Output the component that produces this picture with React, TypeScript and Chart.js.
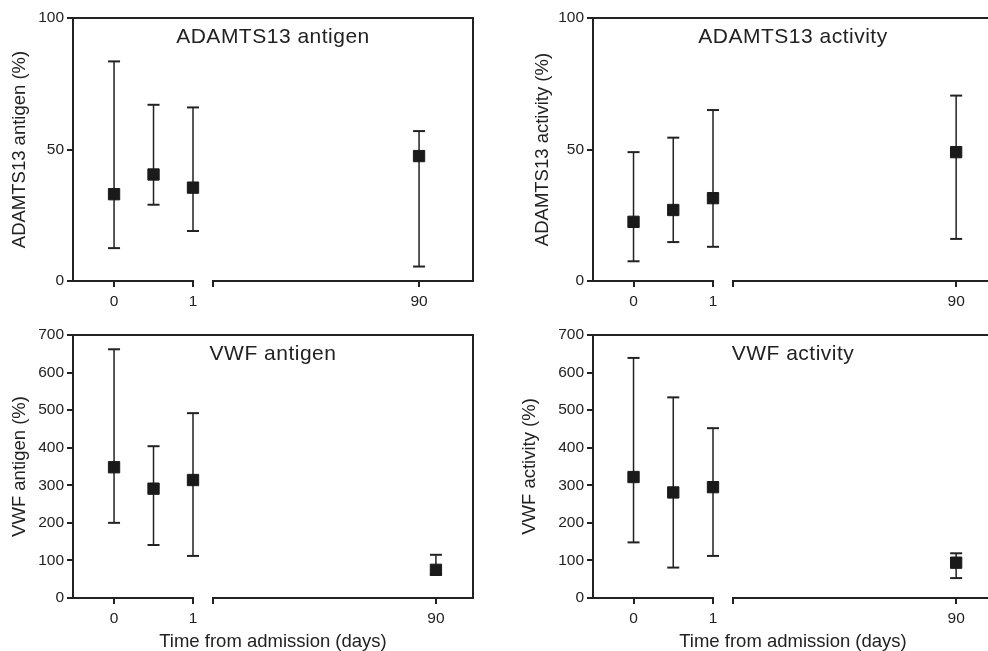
import React, { useEffect, useRef } from 'react';
import { Chart, registerables } from 'chart.js';

Chart.register(...registerables);

// ---------- data ----------
const days = [0, 0.5, 1, 90];
const earlyTickValues = [0, 1];
const lateTickValues = [90];

const adamtsAntigenMedian = [33, 40.5, 35.5, 47.5];
const adamtsAntigenLow = [12.5, 29, 19, 5.5];
const adamtsAntigenHigh = [83.5, 67, 66, 57];

const adamtsActivityMedian = [22.5, 27, 31.5, 49];
const adamtsActivityLow = [7.5, 14.8, 13, 16];
const adamtsActivityHigh = [49, 54.5, 65, 70.5];

const vwfAntigenMedian = [348, 291, 314, 75];
const vwfAntigenLow = [200, 141, 112, 62];
const vwfAntigenHigh = [662, 404, 492, 115];

const vwfActivityMedian = [322, 281, 295, 94];
const vwfActivityLow = [148, 81, 112, 53];
const vwfActivityHigh = [639, 534, 452, 119];

const adamtsTicks = [0, 50, 100];
const vwfTicks = [0, 100, 200, 300, 400, 500, 600, 700];

const xAxisTitle = 'Time from admission (days)';

// ---------- styling ----------
const FONT = "'Liberation Sans', Arial, Helvetica, sans-serif";
const INK = '#222222';
const MARK = '#1a1a1a';

type PanelSpec = {
  key: string;
  title: string;
  yTitle: string;
  median: number[];
  low: number[];
  high: number[];
  yTicks: number[];
  left: number;
  top: number;
  width: number;
  height: number;
  padTop: number;
  padBottom: number;
  yAxisWidth: number;
  yTitlePad: number;
  x1Min: number;
  x2Max: number;
  showXTitle: boolean;
};

const panels: PanelSpec[] = [
  {
    key: 'tl', title: 'ADAMTS13 antigen', yTitle: 'ADAMTS13 antigen (%)',
    median: adamtsAntigenMedian, low: adamtsAntigenLow, high: adamtsAntigenHigh, yTicks: adamtsTicks,
    left: 0, top: 0, width: 494, height: 320, padTop: 18, padBottom: 9,
    yAxisWidth: 73, yTitlePad: 9, x1Min: -0.52, x2Max: 113.3, showXTitle: false,
  },
  {
    key: 'tr', title: 'ADAMTS13 activity', yTitle: 'ADAMTS13 activity (%)',
    median: adamtsActivityMedian, low: adamtsActivityLow, high: adamtsActivityHigh, yTicks: adamtsTicks,
    left: 494, top: 0, width: 520, height: 320, padTop: 18, padBottom: 9,
    yAxisWidth: 99, yTitlePad: 38.3, x1Min: -0.51, x2Max: 104.7, showXTitle: false,
  },
  {
    key: 'bl', title: 'VWF antigen', yTitle: 'VWF antigen (%)',
    median: vwfAntigenMedian, low: vwfAntigenLow, high: vwfAntigenHigh, yTicks: vwfTicks,
    left: 0, top: 320, width: 494, height: 333, padTop: 15, padBottom: 0,
    yAxisWidth: 73, yTitlePad: 8.8, x1Min: -0.52, x2Max: 104.8, showXTitle: true,
  },
  {
    key: 'br', title: 'VWF activity', yTitle: 'VWF activity (%)',
    median: vwfActivityMedian, low: vwfActivityLow, high: vwfActivityHigh, yTicks: vwfTicks,
    left: 494, top: 320, width: 520, height: 333, padTop: 15, padBottom: 0,
    yAxisWidth: 99, yTitlePad: 25.3, x1Min: -0.51, x2Max: 104.7, showXTitle: true,
  },
];

const panelTitlePlugin = {
  id: 'panelTitle',
  afterDraw(chart: any, _args: any, opts: any) {
    const { ctx, chartArea } = chart;
    ctx.save();
    ctx.font = `${opts.size}px ${FONT}`;
    ctx.fillStyle = opts.color;
    ctx.textAlign = 'center';
    ctx.textBaseline = 'alphabetic';
    try { (ctx as any).letterSpacing = opts.letterSpacing; } catch (e) { /* ignore */ }
    ctx.fillText(opts.text, (chartArea.left + chartArea.right) / 2, chartArea.top + opts.offset);
    ctx.restore();
  },
};

function buildDatasets(spec: PanelSpec) {
  const idx = days.map((_, i) => i);
  const groups = [
    { axis: 'x1', items: idx.filter((i) => days[i] <= 1) },
    { axis: 'x2', items: idx.filter((i) => days[i] > 1) },
  ];
  const markers: any[] = [];
  const caps: any[] = [];
  const whiskers: any[] = [];
  for (const g of groups) {
    markers.push({
      type: 'scatter', xAxisID: g.axis, yAxisID: 'y', clip: false,
      data: g.items.map((i) => ({ x: days[i], y: spec.median[i] })),
      pointStyle: 'rect', pointRadius: 8, pointHoverRadius: 8,
      pointBackgroundColor: MARK, pointBorderColor: MARK, pointBorderWidth: 1,
      showLine: false,
    });
    caps.push({
      type: 'scatter', xAxisID: g.axis, yAxisID: 'y', clip: false,
      data: g.items.flatMap((i) => [
        { x: days[i], y: spec.low[i] },
        { x: days[i], y: spec.high[i] },
      ]),
      pointStyle: 'line', pointRadius: 6, pointHoverRadius: 6,
      pointBorderColor: INK, pointBorderWidth: 2, pointBackgroundColor: INK,
      showLine: false,
    });
    whiskers.push({
      type: 'line', xAxisID: g.axis, yAxisID: 'y', clip: false,
      data: g.items.flatMap((i) => [
        { x: days[i], y: spec.low[i] },
        { x: days[i], y: spec.high[i] },
        { x: days[i], y: null },
      ]),
      borderColor: INK, borderWidth: 1.5, pointRadius: 0, pointHoverRadius: 0,
      spanGaps: false, fill: false, tension: 0,
    });
  }
  return [...markers, ...caps, ...whiskers];
}

const tickFont = { family: FONT, size: 15.5 };
const titleFont = { family: FONT, size: 18.5 };

function rowFit(s: any) {
  s.height = 30;
  s.paddingLeft = 0;
  s.paddingRight = 0;
}

function buildConfig(spec: PanelSpec): any {
  const gridTicks = {
    drawOnChartArea: false, drawTicks: true, tickLength: 6,
    lineWidth: 2, tickWidth: 2, color: INK, tickColor: INK,
  };
  const scales: any = {
    x1: {
      type: 'linear', position: 'bottom', stack: 'row', stackWeight: 120,
      min: spec.x1Min, max: 1,
      afterBuildTicks: (s: any) => { s.ticks = earlyTickValues.map((v) => ({ value: v })); },
      ticks: { autoSkip: false, maxRotation: 0, minRotation: 0, padding: 5, color: INK, font: tickFont,
        callback: (v: any) => String(v) },
      grid: gridTicks,
      border: { display: true, width: 2, color: INK },
      afterFit: rowFit,
    },
    xgap: {
      type: 'linear', position: 'bottom', stack: 'row', stackWeight: 20,
      min: 0, max: 1,
      ticks: { display: false },
      grid: { display: false },
      border: { display: false },
      afterFit: rowFit,
    },
    x2: {
      type: 'linear', position: 'bottom', stack: 'row', stackWeight: 260,
      min: 1, max: spec.x2Max,
      afterBuildTicks: (s: any) => {
        s.ticks = [{ value: s.min }, ...lateTickValues.map((v) => ({ value: v }))];
      },
      ticks: { autoSkip: false, maxRotation: 0, minRotation: 0, padding: 5, color: INK, font: tickFont,
        callback: (v: any) => (lateTickValues.includes(v) ? String(v) : '') },
      grid: gridTicks,
      border: { display: true, width: 2, color: INK },
      afterFit: rowFit,
    },
  };
  if (spec.showXTitle) {
    scales.xt = {
      type: 'linear', position: 'bottom', weight: 5,
      ticks: { display: false },
      grid: { display: false },
      border: { display: false },
      title: { display: true, text: xAxisTitle, color: INK, font: titleFont, padding: { top: 0, bottom: 0 } },
      afterFit: (s: any) => { s.height = 25; s.paddingLeft = 0; s.paddingRight = 0; },
    };
  }
  scales.xTop = {
    type: 'linear', position: 'top',
    ticks: { display: false },
    grid: { display: false },
    border: { display: true, width: 2, color: INK },
    afterFit: (s: any) => { s.height = 0; s.paddingLeft = 0; s.paddingRight = 0; },
  };
  scales.y = {
    type: 'linear', position: 'left',
    min: spec.yTicks[0], max: spec.yTicks[spec.yTicks.length - 1],
    afterBuildTicks: (s: any) => { s.ticks = spec.yTicks.map((v) => ({ value: v })); },
    ticks: { autoSkip: false, padding: 3, color: INK, font: tickFont },
    grid: gridTicks,
    border: { display: true, width: 2, color: INK },
    title: { display: true, text: spec.yTitle, color: INK, font: titleFont,
      padding: { top: spec.yTitlePad, bottom: 0 } },
    afterFit: (s: any) => { s.width = spec.yAxisWidth; s.paddingTop = 0; s.paddingBottom = 0; },
  };
  scales.yRight = {
    type: 'linear', position: 'right',
    ticks: { display: false },
    grid: { display: false },
    border: { display: true, width: 2, color: INK },
    afterFit: (s: any) => { s.width = 0; s.paddingTop = 0; s.paddingBottom = 0; },
  };

  return {
    type: 'scatter',
    data: { datasets: buildDatasets(spec) },
    plugins: [panelTitlePlugin],
    options: {
      responsive: false,
      maintainAspectRatio: false,
      animation: false,
      events: [],
      layout: { padding: { top: spec.padTop, right: 21, bottom: spec.padBottom, left: 0 } },
      scales,
      plugins: {
        legend: { display: false },
        tooltip: { enabled: false },
        title: { display: false },
        panelTitle: { text: spec.title, size: 21, color: INK, offset: 25, letterSpacing: '0.5px' },
      },
    },
  };
}

function Panel({ spec }: { spec: PanelSpec }) {
  const ref = useRef<HTMLCanvasElement | null>(null);
  useEffect(() => {
    if (!ref.current) return;
    const chart = new Chart(ref.current, buildConfig(spec));
    return () => chart.destroy();
  }, [spec]);
  return (
    <canvas
      ref={ref}
      width={spec.width}
      height={spec.height}
      style={{ position: 'absolute', left: spec.left, top: spec.top, width: spec.width, height: spec.height }}
    />
  );
}

export default function App() {
  return (
    <div style={{ position: 'fixed', left: 0, top: 0, width: 988, height: 651, overflow: 'hidden', background: '#ffffff' }}>
      {panels.map((p) => (
        <Panel key={p.key} spec={p} />
      ))}
    </div>
  );
}
